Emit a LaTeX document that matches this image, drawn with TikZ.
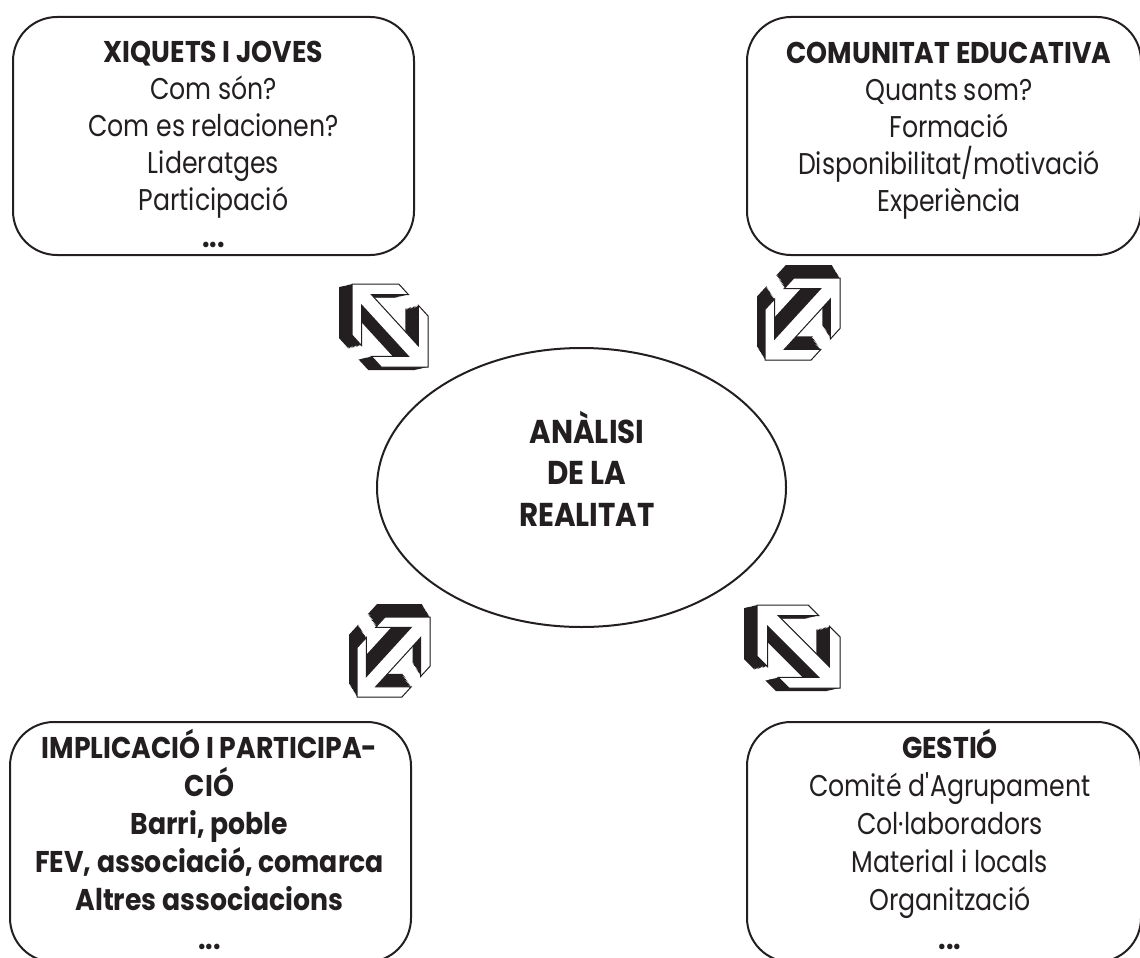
\documentclass[tikz,border=0pt]{standalone}
\usepackage{fontspec}
\setmainfont[FakeStretch=0.84, BoldFeatures={FakeStretch=0.89}]{Poppins}
\usetikzlibrary{shapes.geometric}
\definecolor{ink}{HTML}{231F20}
\tikzset{
  box/.style={draw=ink, line width=2pt, rounded corners=44pt, inner sep=0pt},
  txt/.style={align=center, inner sep=0pt, text=ink, font=\fontsize{30pt}{37pt}\selectfont},
  btxt/.style={align=center, inner sep=0pt, text=ink, font=\fontsize{30pt}{38.2pt}\selectfont\bfseries},
  arrowpoly/.style={insert path={(0,0) -- (48,0) -- (58,10) -- (20,10) -- (68,58) -- (68,20) -- (78,30) -- (78,78) -- (30,78) -- (20,68) -- (58,68) -- (10,20) -- (10,58) -- (0,48) -- cycle}},
}
\newcommand\DblArrow[6]{%
  \begin{scope}[shift={(#1,#2)}]
    \foreach \t in {0,0.1,...,1.01}{
      \fill[ink, shift={(\t*#5,\t*#6)}, xscale=#3, yscale=#4, arrowpoly];
    }
    \draw[ink, fill=white, line width=1pt, xscale=#3, yscale=#4, arrowpoly];
  \end{scope}}
\begin{document}
\begin{tikzpicture}[x=1pt, y=-1pt]
\useasboundingbox (0,0) rectangle (1140,958);
% boxes
\node[box, minimum width=401pt, minimum height=238pt] (xiq) at (213.5,136) {};
\node[box, minimum width=394pt, minimum height=238pt] (com) at (944,136) {};
\node[box, minimum width=401pt, minimum height=240pt] (imp) at (210.5,842) {};
\node[box, minimum width=394pt, minimum height=240pt] (ges) at (944,842) {};
\node[draw=ink, ellipse, line width=2pt, minimum width=409pt, minimum height=279pt, inner sep=0pt] (ana) at (581.5,487.5) {};
% texts (anchor = baseline of the last line)
\node[txt, anchor=base] (xiqt) at (213.5,247) {\textbf{XIQUETS I JOVES}\\Com són?\\Com es relacionen?\\Lideratges\\Participació\\\textbf{...}};
\node[txt, anchor=base] (comt) at (949,211) {\textbf{COMUNITAT EDUCATIVA}\\Quants som?\\Formació\\Disponibilitat/motivació\\Experiència};
\node[btxt, anchor=base] (impt) at (209.5,949) {IMPLICACIÓ I PARTICIPA-\\CIÓ\\Barri, poble\\FEV, associació, comarca\\Altres associacions\\...};
\node[txt, anchor=base, font=\fontsize{30pt}{38.2pt}\selectfont] (gest) at (950,949) {\textbf{GESTIÓ}\\Comité d\textquotesingle Agrupament\\Col·laboradors\\Material i locals\\Organització\\\textbf{...}};
\node[btxt, anchor=base, font=\fontsize{33pt}{41.5pt}\selectfont\bfseries] (anat) at (587,526) {ANÀLISI\\DE LA\\REALITAT};
% arrows
\DblArrow{352}{284}{76/78}{83/78}{-13}{3}
\DblArrow{840}{278}{-75/78}{82/78}{-8}{-13}
\DblArrow{430}{617}{-73/78}{80/78}{-8}{-13}
\DblArrow{757}{605}{83/78}{83/78}{-13}{3}
\end{tikzpicture}
\end{document}
